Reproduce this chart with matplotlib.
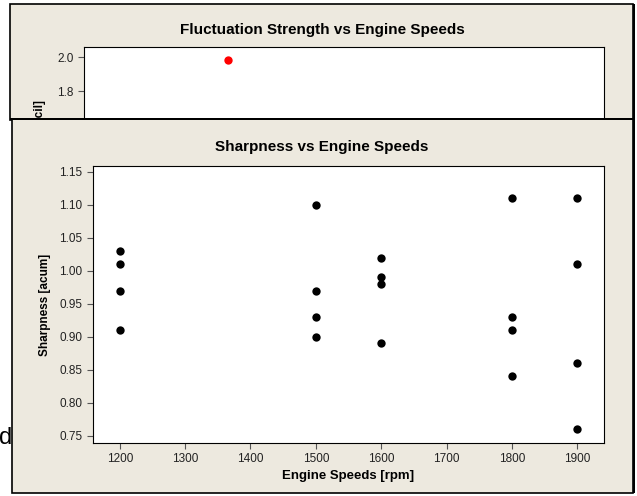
import matplotlib.pyplot as plt
from matplotlib.patches import Rectangle

# data
speed = [1200, 1200, 1200, 1200,
         1500, 1500, 1500, 1500,
         1600, 1600, 1600, 1600,
         1800, 1800, 1800, 1800,
         1900, 1900, 1900, 1900]
sharpness = [1.03, 1.01, 0.97, 0.91,
             1.10, 0.97, 0.93, 0.90,
             1.02, 0.99, 0.98, 0.89,
             1.11, 0.93, 0.91, 0.84,
             1.11, 1.01, 0.86, 0.76]
sharp_ticks = [0.75, 0.80, 0.85, 0.90, 0.95, 1.00, 1.05, 1.10, 1.15]
speed_ticks = [1200, 1300, 1400, 1500, 1600, 1700, 1800, 1900]

fluct_speed = [1200]
fluct = [1.98]
fluct_ticks = [1.6, 1.8, 2.0]

plt.rcParams['font.family'] = ['Liberation Sans', 'DejaVu Sans']

W, H = 637, 496
BG = '#EDE9DF'

fig = plt.figure(figsize=(6.37, 4.96), dpi=100)


def box(l, t, r, b):
    # pixel box -> figure fraction [left, bottom, width, height]
    return [l / W, 1 - b / H, (r - l) / W, (b - t) / H]


# back panel (fluctuation strength), partly hidden
l, b, w, h = box(10, 4, 633, 120)
fig.patches.append(Rectangle((l, b), w, h, transform=fig.transFigure,
                             facecolor=BG, edgecolor='black', lw=1.2, zorder=0))
fig.text(322 / W, 1 - 30 / H, 'Fluctuation Strength vs Engine Speeds',
         ha='center', va='center', fontsize=11, fontweight='bold', zorder=1)
ax1 = fig.add_axes(box(84, 47, 604, 250), zorder=1)
ax1.scatter(fluct_speed, fluct, s=36, color='red', linewidths=0, zorder=3)
ax1.set_xlim(1000, 1722)
ax1.set_ylim(0.865, 2.059)
ax1.set_yticks(fluct_ticks)
ax1.set_yticklabels(['%.1f' % v for v in fluct_ticks])
ax1.set_xticks([])
ax1.tick_params(axis='y', labelsize=8.5, length=4, color='#555555', labelcolor='#222222')
fig.text(40 / W, 1 - 100 / H, 'Fluctuation Strength [vacil]', rotation=90,
         ha='center', va='top', fontsize=8.5, fontweight='bold', zorder=1)

fig.text(-0.002, 1 - 438 / H, 'd', ha='left', va='center', fontsize=17, zorder=1)

# front panel (sharpness)
l, b, w, h = box(12, 119, 633, 493)
fig.patches.append(Rectangle((l, b), w, h, transform=fig.transFigure,
                             facecolor=BG, edgecolor='black', lw=1.2, zorder=2))
fig.patches.append(Rectangle((10 / W, 1 - 120 / H), 623 / W, 2 / H,
                             transform=fig.transFigure, facecolor='black',
                             edgecolor='none', zorder=2.5))
fig.patches.append(Rectangle((633 / W, 1 - 493 / H), 2 / W, 489 / H,
                             transform=fig.transFigure, facecolor='black',
                             edgecolor='none', zorder=2.5))
fig.text(322 / W, 1 - 147 / H, 'Sharpness vs Engine Speeds',
         ha='center', va='center', fontsize=11, fontweight='bold', zorder=4)

ax = fig.add_axes(box(93, 166, 604, 443), zorder=3)
ax.scatter(speed, sharpness, s=36, color='black', linewidths=0, zorder=3)
ax.set_xlim(1159, 1941)
ax.set_ylim(0.739, 1.159)
ax.set_xticks(speed_ticks)
ax.set_yticks(sharp_ticks)
ax.set_yticklabels(['%.2f' % v for v in sharp_ticks])
ax.tick_params(labelsize=8.5, length=4, color='#555555', labelcolor='#222222')
ax.set_xlabel('Engine Speeds [rpm]', fontsize=9.5, fontweight='bold', labelpad=3)
ax.set_ylabel('Sharpness [acum]', fontsize=8.5, fontweight='bold', labelpad=6)

fig.savefig('out.png', dpi=100)
